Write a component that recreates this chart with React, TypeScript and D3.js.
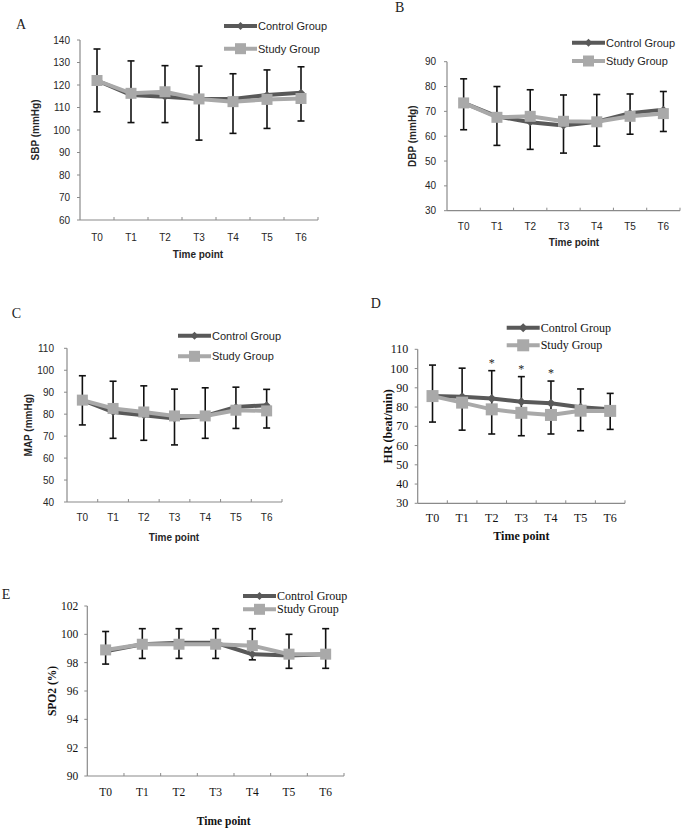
import React from "react";
import * as d3 from "d3";

const timePoints = ["T0", "T1", "T2", "T3", "T4", "T5", "T6"];
const seriesNames = ["Control Group", "Study Group"];

// A: SBP
const sbpControl = [122, 115.6, 114.8, 113.8, 113.8, 115.6, 116.6];
const sbpStudy = [122, 116.3, 117, 113.8, 112.6, 113.6, 114];
const sbpUpper = [136, 130.7, 128.6, 128.4, 125, 126.7, 128.1];
const sbpLower = [108.1, 103.3, 103.3, 95.5, 98.5, 100.7, 104];
const sbpTicks = [60, 70, 80, 90, 100, 110, 120, 130, 140];

// B: DBP
const dbpControl = [73.4, 68, 65.6, 64.3, 65.8, 69.3, 70.7];
const dbpStudy = [73.4, 67.6, 68, 66, 65.8, 68, 69.1];
const dbpUpper = [83.1, 80, 78.7, 76.6, 76.8, 77, 78];
const dbpLower = [62.6, 56.3, 54.7, 53.2, 56, 60.8, 61.9];
const dbpTicks = [30, 40, 50, 60, 70, 80, 90];

// C: MAP
const mapControl = [86.4, 81, 79.5, 78, 79.2, 83.3, 84.1];
const mapStudy = [86.4, 82.6, 81, 79.2, 79.2, 81.8, 81.5];
const mapUpper = [97.5, 95, 92.9, 91.4, 92, 92.3, 91.3];
const mapLower = [75.1, 69, 68.1, 66, 69, 73.5, 73.7];
const mapTicks = [40, 50, 60, 70, 80, 90, 100, 110];

// D: HR
const hrControl = [85.7, 85.4, 84.5, 82.8, 82, 79.9, 78.8];
const hrStudy = [85.7, 82.3, 78.8, 77, 75.9, 78.1, 78];
const hrUpper = [101.8, 100.2, 98.9, 95.8, 93.5, 89.4, 87.1];
const hrLower = [72.2, 68, 66, 65.1, 66, 67.7, 68.4];
const hrTicks = [30, 40, 50, 60, 70, 80, 90, 100, 110];
const hrSignificant = ["T2", "T3", "T4"];

// E: SPO2
const spoControl = [98.8, 99.3, 99.4, 99.4, 98.6, 98.5, 98.6];
const spoStudy = [98.9, 99.3, 99.3, 99.3, 99.2, 98.6, 98.6];
const spoUpper = [100.2, 100.4, 100.4, 100.4, 100.4, 100.0, 100.4];
const spoLower = [97.9, 98.3, 98.3, 98.3, 98.2, 97.6, 97.6];
const spoTicks = [90, 92, 94, 96, 98, 100, 102];

const CONTROL = "#595959";
const STUDY = "#a9a9a9";
const AXIS = "#8a8a8a";
const SANS = "'Liberation Sans', Arial, sans-serif";
const SERIF = "'Liberation Serif', 'Times New Roman', serif";

type Cfg = {
  letter: string; letterX: number; letterY: number;
  left: number; right: number; top: number; bottom: number;
  ticks: number[]; yTitle: string; yTitleX: number;
  tickGap: number; xLabelY: number; xTitleX: number; xTitleY: number;
  legX: number; legY1: number; legY2: number;
  font: string; tickSize: number; legSize: number; titleSize: number;
  sq: number; dia: number;
  control: number[]; study: number[]; upper: number[]; lower: number[];
  sig?: string[];
};

const panels: Cfg[] = [
  { letter: "A", letterX: 16, letterY: 29, left: 80, right: 318, top: 40, bottom: 220,
    ticks: sbpTicks, yTitle: "SBP (mmHg)", yTitleX: 35, tickGap: 10, xLabelY: 237, xTitleX: 198, xTitleY: 254,
    legX: 224, legY1: 26, legY2: 48.7, font: SANS, tickSize: 10, legSize: 11, titleSize: 10, sq: 11, dia: 4,
    control: sbpControl, study: sbpStudy, upper: sbpUpper, lower: sbpLower },
  { letter: "B", letterX: 395, letterY: 11.7, left: 447, right: 680, top: 61.7, bottom: 210.7,
    ticks: dbpTicks, yTitle: "DBP (mmHg)", yTitleX: 412.7, tickGap: 11, xLabelY: 226, xTitleX: 574, xTitleY: 242,
    legX: 572, legY1: 42.7, legY2: 61, font: SANS, tickSize: 10, legSize: 11, titleSize: 10, sq: 11, dia: 4,
    control: dbpControl, study: dbpStudy, upper: dbpUpper, lower: dbpLower },
  { letter: "C", letterX: 11.7, letterY: 317.7, left: 67, right: 282, top: 348.3, bottom: 502,
    ticks: mapTicks, yTitle: "MAP (mmHg)", yTitleX: 28, tickGap: 13, xLabelY: 517.7, xTitleX: 174, xTitleY: 537,
    legX: 178, legY1: 335.7, legY2: 356.3, font: SANS, tickSize: 10, legSize: 11, titleSize: 10, sq: 11, dia: 4,
    control: mapControl, study: mapStudy, upper: mapUpper, lower: mapLower },
  { letter: "D", letterX: 370.7, letterY: 308, left: 417.7, right: 625, top: 349.3, bottom: 503.3,
    ticks: hrTicks, yTitle: "HR (beat/min)", yTitleX: 388.3, tickGap: 9.4, xLabelY: 518.3, xTitleX: 521.4, xTitleY: 536,
    legX: 506.7, legY1: 327.7, legY2: 345.3, font: SERIF, tickSize: 12, legSize: 12, titleSize: 12, sq: 12, dia: 4.5,
    control: hrControl, study: hrStudy, upper: hrUpper, lower: hrLower, sig: hrSignificant },
  { letter: "E", letterX: 1.7, letterY: 599, left: 87.3, right: 344, top: 606, bottom: 776,
    ticks: spoTicks, yTitle: "SPO2 (%)", yTitleX: 51.7, tickGap: 9, xLabelY: 792, xTitleX: 223.7, xTitleY: 821,
    legX: 243, legY1: 596, legY2: 609.3, font: SERIF, tickSize: 11.5, legSize: 12, titleSize: 11.5, sq: 11, dia: 4,
    control: spoControl, study: spoStudy, upper: spoUpper, lower: spoLower },
];

const diamond = (cx: number, cy: number, r: number) =>
  `M${cx},${cy - r}L${cx + r},${cy}L${cx},${cy + r}L${cx - r},${cy}Z`;

function Panel({ c }: { c: Cfg }) {
  const x = d3.scaleBand<string>().domain(timePoints).range([c.left, c.right]).padding(0);
  const bw = x.bandwidth();
  const cx = (t: string) => (x(t) as number) + bw / 2;
  const y = d3.scaleLinear().domain([c.ticks[0], c.ticks[c.ticks.length - 1]]).range([c.bottom, c.top]);
  const line = d3.line<number>().x((_, i) => cx(timePoints[i])).y((v) => y(v));
  const legLen = 33;
  const isSerif = c.font === SERIF;
  const txt = isSerif ? "#111" : "#262626";
  return (
    <g>
      <text x={c.letterX} y={c.letterY} fontFamily={SERIF} fontSize={14} fill="#222">{c.letter}</text>
      {/* y axis */}
      <line x1={c.left} x2={c.left} y1={c.top} y2={c.bottom} stroke={AXIS} strokeWidth={1.2} />
      {c.ticks.map((t) => (
        <g key={t}>
          <line x1={c.left - 3} x2={c.left} y1={y(t)} y2={y(t)} stroke={AXIS} strokeWidth={1} />
          <text x={c.left - c.tickGap} y={y(t)} textAnchor="end" dominantBaseline="central"
            fontFamily={c.font} fontSize={c.tickSize} fill={txt}>{t}</text>
        </g>
      ))}
      {/* x axis */}
      <line x1={c.left} x2={c.right} y1={c.bottom} y2={c.bottom} stroke={AXIS} strokeWidth={1.2} />
      {timePoints.map((t) => (
        <g key={t}>
          <line x1={(x(t) as number) + bw} x2={(x(t) as number) + bw} y1={c.bottom - 3} y2={c.bottom}
            stroke={AXIS} strokeWidth={1} />
          <text x={cx(t)} y={c.xLabelY} textAnchor="middle" dominantBaseline="central"
            fontFamily={c.font} fontSize={c.tickSize} fill={txt}>{t}</text>
        </g>
      ))}
      <text x={c.xTitleX} y={c.xTitleY} textAnchor="middle" dominantBaseline="central"
        fontFamily={c.font} fontSize={c.titleSize} fontWeight="bold" fill={txt}>Time point</text>
      <text transform={`translate(${c.yTitleX},${(c.top + c.bottom) / 2}) rotate(-90)`} textAnchor="middle"
        dominantBaseline="central" fontFamily={c.font} fontSize={c.titleSize} fontWeight="bold" fill={txt}>{c.yTitle}</text>
      {/* error bars */}
      {timePoints.map((t, i) => (
        <g key={"e" + t} stroke="#111" strokeWidth={1.6}>
          <line x1={cx(t)} x2={cx(t)} y1={y(c.upper[i])} y2={y(c.lower[i])} />
          <line x1={cx(t) - 3.5} x2={cx(t) + 3.5} y1={y(c.upper[i])} y2={y(c.upper[i])} />
          <line x1={cx(t) - 3.5} x2={cx(t) + 3.5} y1={y(c.lower[i])} y2={y(c.lower[i])} />
        </g>
      ))}
      {/* control series */}
      <path d={line(c.control) || ""} fill="none" stroke={CONTROL} strokeWidth={4} />
      {c.control.map((v, i) => (
        <path key={"c" + i} d={diamond(cx(timePoints[i]), y(v), c.dia)} fill={CONTROL} />
      ))}
      {/* study series */}
      <path d={line(c.study) || ""} fill="none" stroke={STUDY} strokeWidth={4} />
      {c.study.map((v, i) => (
        <rect key={"s" + i} x={cx(timePoints[i]) - c.sq / 2} y={y(v) - c.sq / 2} width={c.sq} height={c.sq} fill={STUDY} />
      ))}
      {/* significance */}
      {(c.sig || []).map((t) => {
        const i = timePoints.indexOf(t);
        return (
          <text key={"a" + t} x={cx(t)} y={y(c.upper[i]) - 4} textAnchor="middle"
            fontFamily={SERIF} fontSize={12} fill="#222">*</text>
        );
      })}
      {/* legend */}
      {[c.legY1, c.legY2].map((ly, k) => (
        <g key={"l" + k}>
          <line x1={c.legX} x2={c.legX + legLen} y1={ly} y2={ly} stroke={k === 0 ? CONTROL : STUDY} strokeWidth={4} />
          {k === 0 ? (
            <path d={diamond(c.legX + legLen / 2, ly, c.dia)} fill={CONTROL} />
          ) : (
            <rect x={c.legX + legLen / 2 - c.sq / 2} y={ly - c.sq / 2} width={c.sq} height={c.sq} fill={STUDY} />
          )}
          <text x={c.legX + legLen + 1} y={ly} dominantBaseline="central" fontFamily={c.font}
            fontSize={c.legSize} fill={txt}>{seriesNames[k]}</text>
        </g>
      ))}
    </g>
  );
}

export default function App() {
  return (
    <svg width={685} height={831} style={{ position: "absolute", left: 0, top: 0, background: "#fff" }}>
      <rect x={0} y={0} width={685} height={831} fill="#fff" />
      {panels.map((p) => (
        <Panel key={p.letter} c={p} />
      ))}
    </svg>
  );
}
